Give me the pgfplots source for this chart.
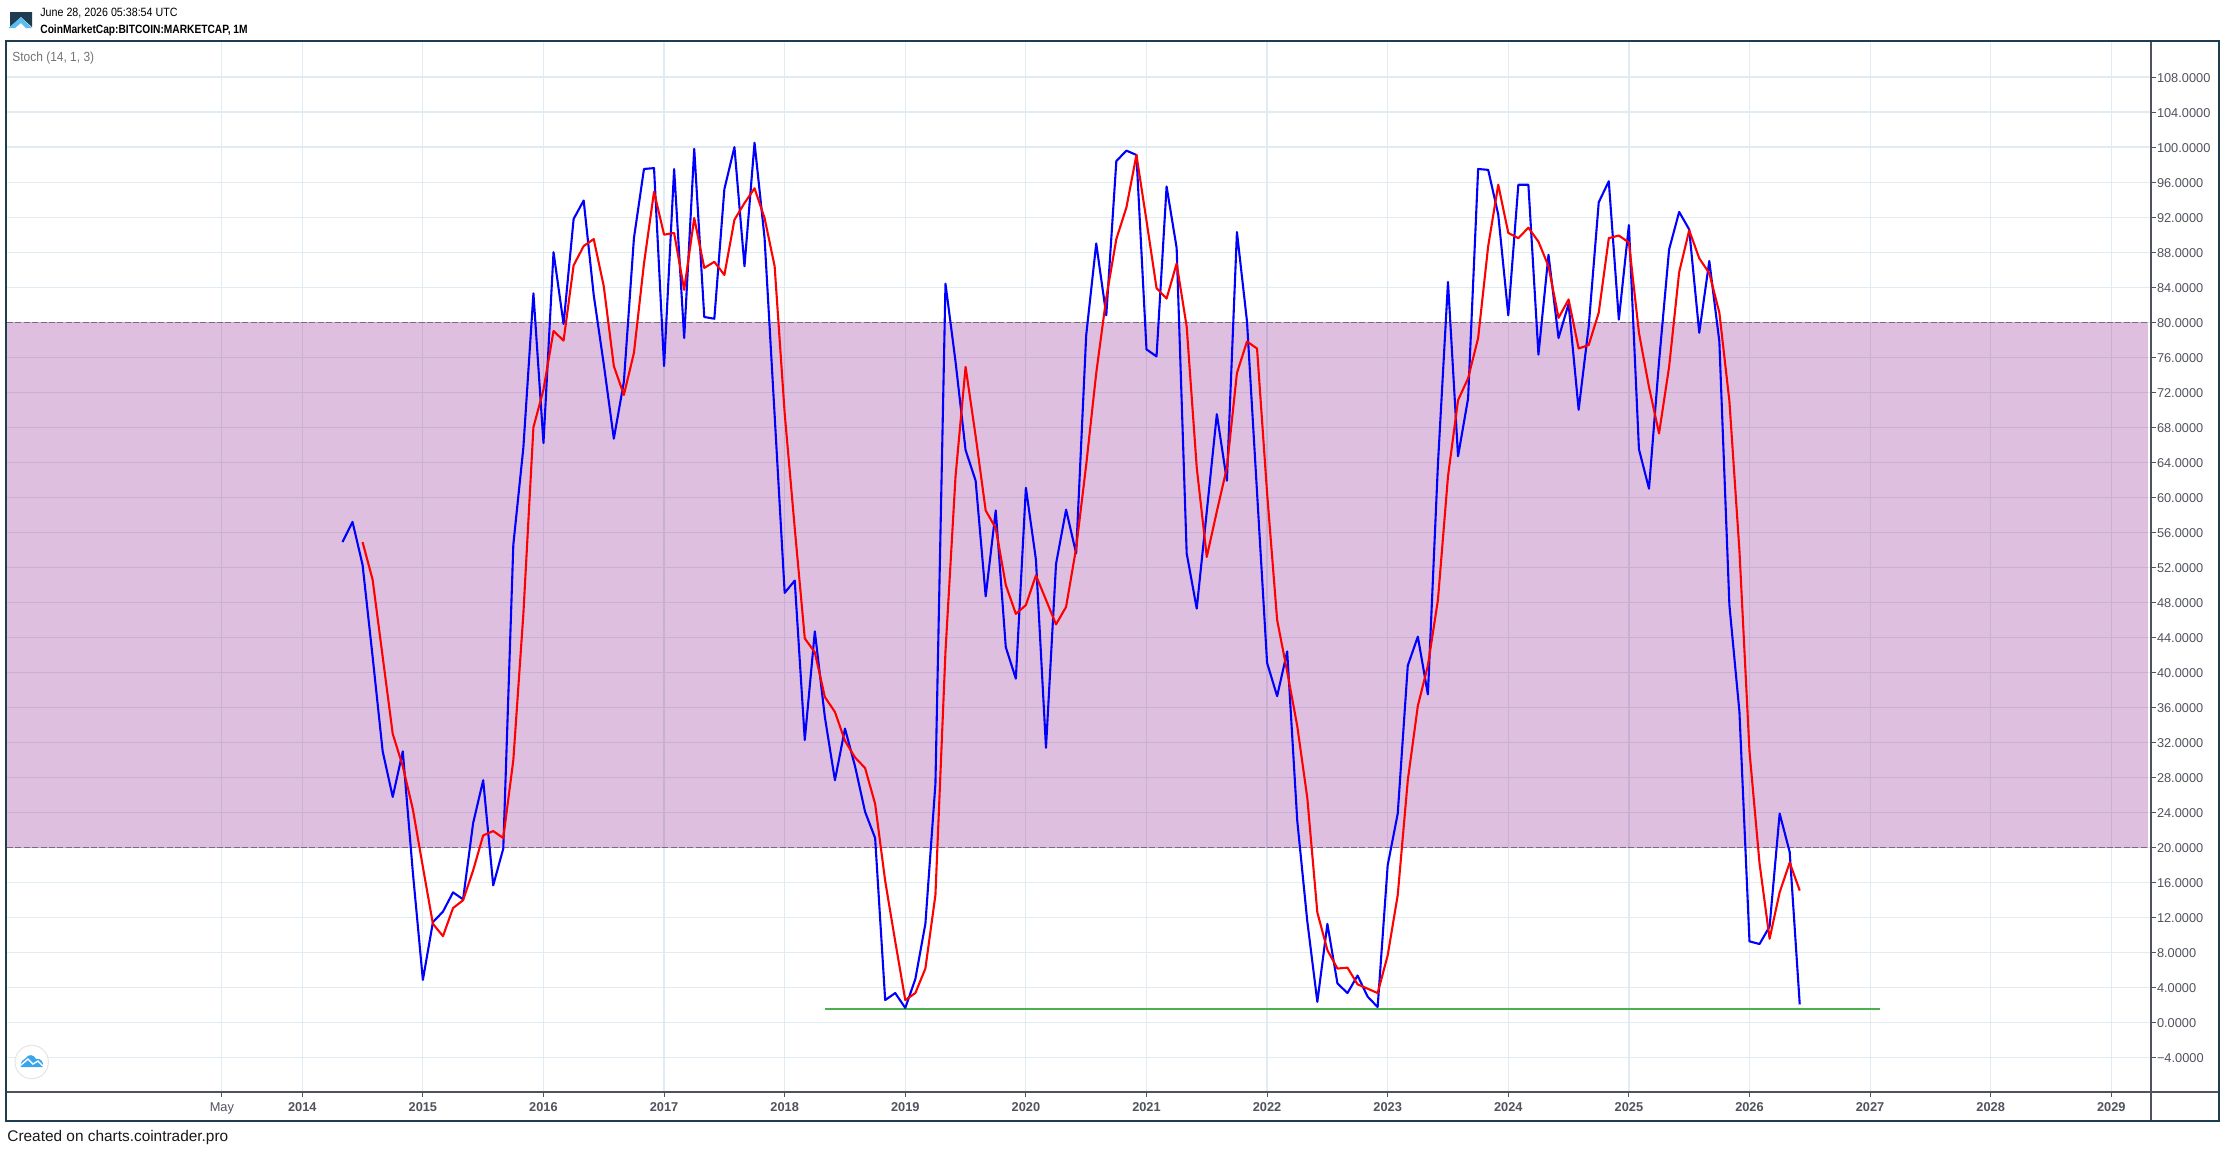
\documentclass[border=0pt]{standalone}
\usepackage{fontspec}
\setmainfont{Liberation Sans}
\usepackage{graphicx}
\usepackage{pgfplots}
\usepackage{pgfplotstable}
\pgfplotsset{compat=1.18}
\definecolor{gridc}{HTML}{E1ECF2}
\definecolor{axisc}{HTML}{50535E}
\definecolor{framec}{HTML}{1F3D50}
\definecolor{dashc}{HTML}{7A6A80}
\definecolor{greenc}{HTML}{4CAF50}
\definecolor{logoc}{HTML}{5ABEEB}
\definecolor{cloudc}{HTML}{38A5EF}
\definecolor{bandc}{HTML}{800080}
\pgfplotstableread{
i v
4 54.9
5 57.2
6 52.3
7 41.8
8 31.0
9 25.8
10 31.0
11 17.2
12 4.9
13 11.5
14 12.7
15 14.9
16 14.1
17 22.8
18 27.7
19 15.7
20 19.9
21 54.6
22 65.7
23 83.3
24 66.2
25 88.0
26 79.8
27 91.8
28 93.9
29 83.1
30 75.2
31 66.7
32 73.2
33 89.6
34 97.5
35 97.6
36 75.0
37 97.5
38 78.2
39 99.8
40 80.6
41 80.4
42 95.2
43 100.0
44 86.4
45 100.5
46 89.6
47 69.4
48 49.1
49 50.5
50 32.3
51 44.7
52 34.9
53 27.7
54 33.6
55 29.3
56 24.1
57 21.1
58 2.6
59 3.4
60 1.7
61 5.0
62 11.3
63 27.3
64 84.4
65 75.5
66 65.4
67 61.9
68 48.7
69 58.5
70 42.9
71 39.3
72 61.1
73 52.9
74 31.4
75 52.4
76 58.6
77 53.6
78 78.5
79 89.0
80 80.8
81 98.4
82 99.6
83 99.1
84 76.9
85 76.1
86 95.5
87 88.5
88 53.6
89 47.3
90 58.4
91 69.5
92 61.9
93 90.3
94 80.1
95 60.6
96 41.1
97 37.3
98 42.4
99 23.1
100 11.6
101 2.4
102 11.3
103 4.5
104 3.4
105 5.4
106 3.0
107 1.8
108 18.0
109 23.9
110 40.8
111 44.1
112 37.5
113 63.8
114 84.6
115 64.7
116 71.3
117 97.5
118 97.4
119 92.3
120 80.8
121 95.7
122 95.7
123 76.3
124 87.7
125 78.2
126 82.1
127 70.0
128 79.5
129 93.7
130 96.1
131 80.3
132 91.1
133 65.5
134 61.0
135 75.5
136 88.3
137 92.6
138 90.6
139 78.8
140 87.0
141 77.8
142 47.7
143 35.5
144 9.3
145 9.0
146 11.0
147 23.9
148 19.5
149 2.1
}\kline
\pgfplotstableread{
i v
6 54.9
7 50.6
8 41.8
9 33.0
10 29.3
11 24.4
12 17.8
13 11.3
14 9.9
15 13.1
16 14.0
17 17.4
18 21.4
19 21.9
20 21.1
21 30.0
22 46.7
23 68.0
24 72.3
25 79.0
26 77.9
27 86.5
28 88.7
29 89.5
30 84.1
31 75.0
32 71.7
33 76.5
34 86.7
35 94.9
36 90.0
37 90.2
38 83.7
39 91.9
40 86.2
41 86.9
42 85.4
43 91.7
44 93.6
45 95.3
46 91.9
47 86.4
48 69.6
49 56.5
50 43.9
51 42.3
52 37.2
53 35.5
54 32.2
55 30.3
56 29.1
57 25.0
58 16.2
59 9.3
60 2.6
61 3.4
62 6.2
63 14.6
64 42.4
65 62.4
66 74.9
67 67.0
68 58.5
69 56.5
70 50.0
71 46.7
72 47.7
73 51.1
74 48.3
75 45.5
76 47.5
77 54.2
78 63.7
79 74.2
80 82.8
81 89.5
82 93.1
83 99.1
84 91.6
85 83.9
86 82.7
87 86.7
88 79.5
89 63.4
90 53.2
91 58.4
92 63.4
93 74.2
94 77.8
95 77.0
96 60.5
97 46.0
98 40.1
99 33.9
100 25.7
101 12.6
102 8.3
103 6.2
104 6.3
105 4.4
106 3.9
107 3.4
108 7.7
109 14.6
110 27.7
111 36.2
112 40.8
113 48.3
114 62.4
115 71.1
116 73.6
117 78.2
118 88.7
119 95.7
120 90.2
121 89.6
122 90.8
123 89.2
124 86.4
125 80.5
126 82.6
127 77.0
128 77.4
129 81.1
130 89.6
131 89.9
132 89.1
133 78.8
134 72.6
135 67.3
136 74.9
137 85.7
138 90.5
139 87.3
140 85.6
141 81.1
142 71.0
143 53.9
144 31.0
145 18.2
146 9.6
147 14.9
148 18.3
149 15.1
}\dline
\begin{document}
\begin{tikzpicture}[x=0.5pt,y=-0.5pt]
\path[use as bounding box,fill=white] (0,0) rectangle (2226,1152);
\begin{axis}[
  at={(3.5pt,-546pt)},anchor=south west,
  scale only axis,width=1072pt,height=525pt,
  xmin=-29.38,xmax=183.95,ymin=-7.9,ymax=112,
  axis x line*=bottom,axis y line*=right,
  axis line style={axisc,line width=0.75pt,-},
  xtick={-8,0,12,24,36,48,60,72,84,96,108,120,132,144,156,168,180},
  xticklabels={May,\textbf{2014},\textbf{2015},\textbf{2016},\textbf{2017},\textbf{2018},\textbf{2019},\textbf{2020},\textbf{2021},\textbf{2022},\textbf{2023},\textbf{2024},\textbf{2025},\textbf{2026},\textbf{2027},\textbf{2028},\textbf{2029}},
  ytick={-4,0,4,8,12,16,20,24,28,32,36,40,44,48,52,56,60,64,68,72,76,80,84,88,92,96,100,104,108},
  yticklabels={−4.0000,0.0000,4.0000,8.0000,12.0000,16.0000,20.0000,24.0000,28.0000,32.0000,36.0000,40.0000,44.0000,48.0000,52.0000,56.0000,60.0000,64.0000,68.0000,72.0000,76.0000,80.0000,84.0000,88.0000,92.0000,96.0000,100.0000,104.0000,108.0000},
  grid=major,
  major grid style={gridc,line width=0.6pt},
  tick align=outside,
  major tick length=2.5pt,
  tick style={axisc,line width=0.5pt},
  tick label style={font=\fontsize{6.4}{7}\selectfont,text=axisc},
  yticklabel style={anchor=west,xshift=-1.2pt,yshift=-0.3pt,inner xsep=1.5pt},
  xticklabel style={anchor=base,yshift=-7.2pt},
  clip=true,
]
\addplot[draw=none,fill=bandc,fill opacity=0.25,forget plot] coordinates {(-29.38,20) (183.7,20) (183.7,80) (-29.38,80)} -- cycle;
\addplot[dashc,line width=0.5pt,dash pattern=on 3pt off 1.2pt] coordinates {(-29.38,80) (183.7,80)};
\addplot[dashc,line width=0.5pt,dash pattern=on 3pt off 1.2pt] coordinates {(-29.38,20) (183.7,20)};
\addplot[greenc,line width=0.9pt] coordinates {(52,1.6) (157,1.6)};
\addplot[blue,line width=1.05pt,line join=round] table[x=i,y=v] {\kline};
\addplot[red,line width=1.05pt,line join=round] table[x=i,y=v] {\dline};
\end{axis}
% separators and frame
\draw[axisc,line width=0.75pt] (2151,1092) -- (2218,1092);
\draw[axisc,line width=0.75pt] (2151,1092) -- (2151,1120);
\draw[framec,line width=1.25pt] (6,41) rectangle (2219,1121);
% texts
\node[anchor=west,inner sep=0,font=\fontsize{6}{7}\selectfont,text=black] at (40,12.7) {\scalebox{0.89}[1]{June 28, 2026 05:38:54 UTC}};
\node[anchor=west,inner sep=0,font=\fontsize{6}{7}\selectfont\bfseries,text=black] at (40,30) {\scalebox{0.85}[1]{CoinMarketCap:BITCOIN:MARKETCAP, 1M}};
\node[anchor=west,inner sep=0,font=\fontsize{6.6}{8}\selectfont,text=black!55] at (12,58) {\scalebox{0.906}[1]{Stoch (14, 1, 3)}};
\node[anchor=west,inner sep=0,font=\fontsize{7.7}{9}\selectfont,text=black!90] at (7,1137.7) {Created on charts.cointrader.pro};
% logo
\fill[framec] (10,12) -- (32,12) -- (32,27) -- (21,17) -- (10,27) -- cycle;
\fill[logoc] (8.5,28) -- (21,17) -- (32,28) -- (26,28) -- (21,23) -- (15,28) -- cycle;
% cloud badge
\draw[fill=white,draw=black!10,line width=0.5pt] (31.7,1062) circle (16.7);
\fill[cloudc] (21,1067) .. controls (20,1060) and (24,1060) .. (26,1058) .. controls (28,1054) and (34,1054) .. (36,1059) .. controls (40,1058) and (44,1061) .. (43,1067) -- cycle;
\draw[white,line width=0.7pt] (21,1065) -- (28,1059) -- (33,1064) -- (38,1061) -- (43,1066);
\end{tikzpicture}
\end{document}
